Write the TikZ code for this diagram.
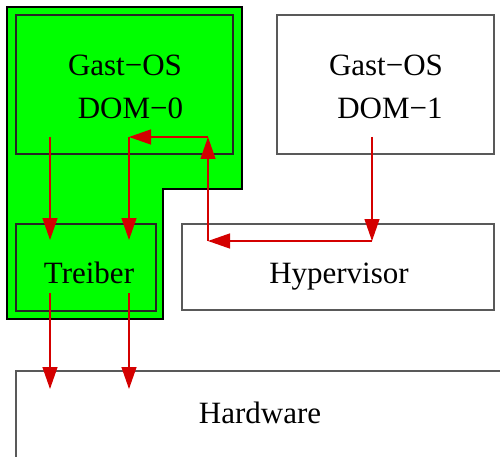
\documentclass[tikz,border=0pt]{standalone}
\usepackage{fontspec}
\setmainfont{Liberation Serif}
\usetikzlibrary{arrows.meta}

\definecolor{dialinecolor}{rgb}{0.350000, 0.350000, 0.350000}
\definecolor{diaredcolor}{rgb}{0.830000, 0.000000, 0.000000}
\definecolor{diagreencolor}{rgb}{0.000000, 1.000000, 0.000000}

\tikzset{
  box/.style={draw=dialinecolor, line width=1.3pt, rectangle, inner sep=0pt, outer sep=0pt, anchor=north west},
  lbl/.style={anchor=base, inner sep=0pt, outer sep=0pt, font=\fontsize{31}{37}\selectfont},
  flow/.style={draw=diaredcolor, line width=1.3pt, -{Triangle[length=22pt,width=15pt]}}
}

\begin{document}
\begin{tikzpicture}[x=1pt,y=-1pt]
\useasboundingbox (0,0) rectangle (500,457);
\clip (0,0) rectangle (500,457);
% green domain
\draw[fill=diagreencolor, line width=1.3pt] (7,7)--(242,7)--(242,189)--(163,189)--(163,319)--(7,319)--cycle;
\node[box, draw=black!85, minimum width=217pt, minimum height=139pt] (dom0) at (16,15) {};
\node[box, draw=black!85, minimum width=140pt, minimum height=87pt] (treiber) at (16,224) {};
\node[box, minimum width=217pt, minimum height=139pt] (dom1) at (277,15) {};
\node[box, minimum width=312pt, minimum height=86pt] (hyper) at (182,224) {};
\node[box, minimum width=520pt, minimum height=120pt] (hw) at (16,371) {};
% texts
\node[lbl] (dom0os) at (125,76) {Gast−OS};
\node[lbl] (dom0id) at (130.5,119) {DOM−0};
\node[lbl] (dom1os) at (386,76) {Gast−OS};
\node[lbl] (dom1id) at (390,119) {DOM−1};
\node[lbl] (treibertxt) at (89,283) {Treiber};
\node[lbl] (hypertxt) at (339,283) {Hypervisor};
\node[lbl] (hwtxt) at (260,423) {Hardware};
% connector points
\coordinate (a0) at (50,137);
\coordinate (a1) at (50,240);
\coordinate (b0) at (129,137);
\coordinate (b1) at (129,240);
\coordinate (c0) at (208,137);
\coordinate (c1) at (208,241);
\coordinate (d0) at (372,137);
\coordinate (d1) at (372,241);
\coordinate (e0) at (50,293);
\coordinate (e1) at (50,389);
\coordinate (f0) at (129,293);
\coordinate (f1) at (129,389);
% arrows
\draw[flow] (a0)--(a1);
\draw[flow] (c0)--(b0);
\draw[flow] (b0)--(b1);
\draw[flow] (d0)--(d1);
\draw[flow] (d1)--(c1);
\draw[flow] (c1)--(c0);
\draw[flow] (e0)--(e1);
\draw[flow] (f0)--(f1);
\end{tikzpicture}
\end{document}
